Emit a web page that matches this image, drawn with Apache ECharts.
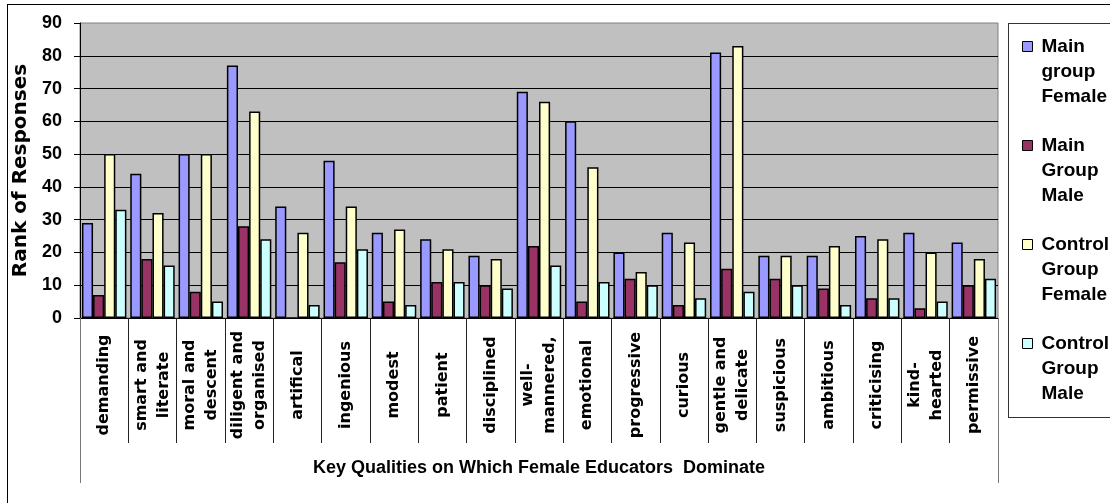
<!DOCTYPE html>
<html>
<head>
<meta charset="utf-8">
<script src="https://cdn.jsdelivr.net/npm/echarts@6/dist/echarts.min.js"></script>
<style>
  html, body { margin: 0; padding: 0; background: #fff; overflow: hidden; }
  #chart { position: absolute; left: 0; top: 0; width: 1110px; height: 503px; z-index: 2; }
  /* outer chart-area frame (left and top edges) */
  #frame { position: absolute; left: 7px; top: 4px; width: 2000px; height: 2000px;
           border-left: 1px solid #000; border-top: 1px solid #000; pointer-events: none; z-index: 3; }
  /* legend box, open past the right edge of the page */
  #legendBox { position: absolute; left: 1008px; top: 23px; width: 300px; height: 393px;
               border: 1px solid #333; background: #fff; z-index: 1; }
</style>
</head>
<body>
<div id="legendBox"></div>
<div id="chart"></div>
<div id="frame"></div>
<script>
// Qualities (category axis)
const categories = [
  'demanding', 'smart and\nliterate', 'moral and\ndescent', 'diligent and\norganised',
  'artifical', 'ingenious', 'modest', 'patient', 'disciplined', 'well-\nmannered,',
  'emotional', 'progressive', 'curious', 'gentle and\ndelicate', 'suspicious',
  'ambitious', 'criticising', 'kind-\nhearted', 'permissive'
];
const groupTitle = 'Key Qualities on Which Female Educators  Dominate';

// Series names
const seriesNames = ['Main group Female', 'Main Group Male', 'Control Group Female', 'Control Group Male'];

// Rank of responses per quality
const mainFemale    = [29, 44, 50, 77, 34, 48, 26, 24, 19, 69, 60, 20, 26, 81, 19, 19, 25, 26, 23];
const mainMale      = [7, 18, 8, 28, 0, 17, 5, 11, 10, 22, 5, 12, 4, 15, 12, 9, 6, 3, 10];
const controlFemale = [50, 32, 50, 63, 26, 34, 27, 21, 18, 66, 46, 14, 23, 83, 19, 22, 24, 20, 18];
const controlMale   = [33, 16, 5, 24, 4, 21, 4, 11, 9, 16, 11, 10, 6, 8, 10, 4, 6, 5, 12];

// Value axis ticks
const yTicks = { min: 0, max: 90, interval: 10 };

const colors = ['#9999FF', '#993366', '#FFFFCC', '#CCFFFF'];
const seriesData = [mainFemale, mainMale, controlFemale, controlMale];

const chart = echarts.init(document.getElementById('chart'), null, { renderer: 'canvas' });

const ARIAL = '"Liberation Sans", Arial, sans-serif';
const DEJAVU = '"DejaVu Sans", sans-serif';

chart.setOption({
  animation: false,
  backgroundColor: 'transparent',
  grid: {
    left: 80, top: 23, width: 918, height: 295,
    show: true, backgroundColor: '#C0C0C0',
    borderColor: '#808080', borderWidth: 1
  },
  legend: {
    orient: 'vertical',
    left: 1008, top: 23,
    padding: [10.5, 10, 14.5, 14],
    itemGap: 23,
    itemWidth: 14, itemHeight: 75,
    // square sits beside the first line of the three-line name
    icon: 'path://M0,0M14,75M0,7.5L10,7.5L10,17.5L0,17.5Z',
    borderWidth: 0,
    itemStyle: { borderColor: '#000', borderWidth: 1 },
    textStyle: { fontFamily: ARIAL, fontWeight: 'bold', fontSize: 19, color: '#000', lineHeight: 25 },
    formatter: name => name.split(' ').join('\n'),
    data: seriesNames
  },
  xAxis: [
    {
      type: 'category',
      data: categories,
      position: 'bottom',
      axisLine: { show: true, lineStyle: { color: '#000', width: 1 } },
      axisTick: { show: true, length: 125, lineStyle: { color: '#222', width: 1 } },
      axisLabel: {
        interval: 0, rotate: 90, align: 'center', verticalAlign: 'middle',
        margin: 67, lineHeight: 22,
        fontFamily: DEJAVU, fontWeight: 'bold', fontSize: 16, color: '#000'
      },
      splitLine: { show: false }
    },
    {
      type: 'category',
      data: [groupTitle],
      position: 'bottom',
      axisLine: { show: false },
      axisTick: { show: true, length: 165, lineStyle: { color: '#777', width: 1 } },
      axisLabel: {
        margin: 141,
        fontFamily: ARIAL, fontWeight: 'bold', fontSize: 18, color: '#000'
      },
      splitLine: { show: false }
    }
  ],
  yAxis: {
    type: 'value',
    min: yTicks.min, max: yTicks.max, interval: yTicks.interval,
    name: 'Rank of Responses',
    nameLocation: 'middle',
    nameGap: 40,
    nameTextStyle: { fontFamily: DEJAVU, fontWeight: 'bold', fontSize: 20, color: '#000' },
    axisLine: { show: true, lineStyle: { color: '#000', width: 1 } },
    axisTick: { show: true, length: 6, lineStyle: { color: '#000', width: 1 } },
    axisLabel: { margin: 18, fontFamily: ARIAL, fontWeight: 'bold', fontSize: 18, color: '#000' },
    splitLine: { show: true, showMaxLine: false, lineStyle: { color: '#000', width: 1 } }
  },
  series: seriesNames.map((name, i) => ({
    name: name,
    type: 'bar',
    xAxisIndex: 0,
    data: seriesData[i],
    barGap: '0%',
    barCategoryGap: '8%',
    itemStyle: { color: colors[i], borderColor: '#000', borderWidth: 1.5 }
  }))
});
</script>
</body>
</html>
